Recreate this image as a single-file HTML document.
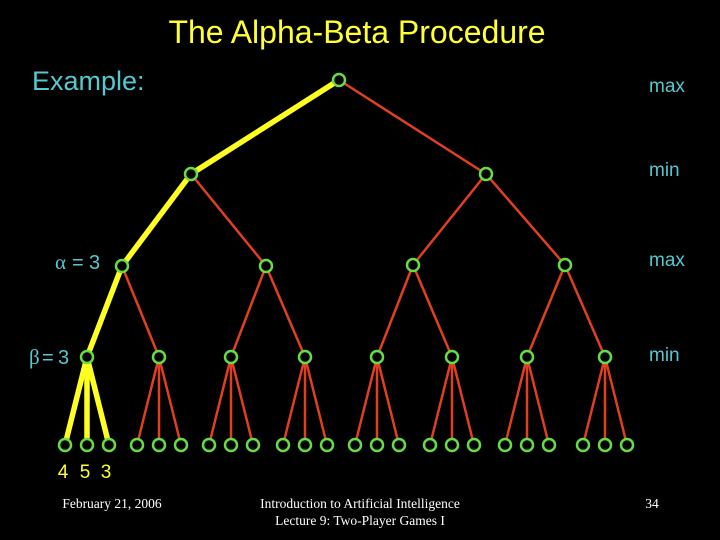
<!DOCTYPE html>
<html><head><meta charset="utf-8"><style>
html,body{margin:0;padding:0;background:#000;}
svg{display:block}
</style></head><body>
<svg width="720" height="540" viewBox="0 0 720 540" xmlns="http://www.w3.org/2000/svg">
<rect width="720" height="540" fill="#000"/>
<text x="357" y="43" font-family="Liberation Sans, sans-serif" font-size="32" fill="#ffff33" text-anchor="middle">The Alpha-Beta Procedure</text>
<g font-family="Liberation Sans, sans-serif" fill="#55c8d0">
<text x="32" y="90" font-size="27">Example:</text>
<text x="649" y="92" font-size="19">max</text>
<text x="649" y="176" font-size="19">min</text>
<text x="649" y="266" font-size="19">max</text>
<text x="649" y="361" font-size="19">min</text>
<text x="55" y="269" font-size="21" font-family="Liberation Serif, serif">α</text><text x="72" y="269" font-size="20">=</text><text x="89" y="269" font-size="20">3</text>
<text x="29" y="364" font-size="21" font-family="Liberation Serif, serif">β</text><text x="42" y="364" font-size="20">=</text><text x="58" y="364" font-size="20">3</text>
</g>
<g font-family="Liberation Sans, sans-serif" fill="#ffff33" font-size="19" text-anchor="middle">
<text x="63" y="478">4</text><text x="85" y="478">5</text><text x="106" y="478">3</text>
</g>
<g font-family="Liberation Serif, serif" fill="#fff" font-size="13.5" text-anchor="middle">
<text x="112" y="508">February 21, 2006</text>
<text x="360" y="508">Introduction to Artificial Intelligence</text>
<text x="360" y="525">Lecture 9: Two-Player Games I</text>
<text x="652" y="508">34</text>
</g>
<g id="edges" stroke="#e04020" stroke-width="2.5" fill="none"></g>
<g id="yel" stroke="#ffff22" stroke-width="5.5" fill="none" stroke-linecap="round"></g>
<g id="nodes" stroke="#66dd44" stroke-width="2.5" fill="#000"></g>
<script>
var ns="http://www.w3.org/2000/svg";
var root=[339,80],L1=[[191,174],[486,174]],L2=[[122,266],[266,266],[413,265],[565,265]];
var c3=[87,159,231,305,377,452,527,605],L3=c3.map(function(x){return [x,357]});
var leaves=[];c3.forEach(function(x){leaves.push([x-22,445],[x,445],[x+22,445])});
var E=document.getElementById('edges'),Y=document.getElementById('yel'),N=document.getElementById('nodes');
function ln(g,a,b){var l=document.createElementNS(ns,'line');l.setAttribute('x1',a[0]);l.setAttribute('y1',a[1]);l.setAttribute('x2',b[0]);l.setAttribute('y2',b[1]);g.appendChild(l);}
ln(Y,root,L1[0]);ln(E,root,L1[1]);
for(var i=0;i<4;i++)ln(i==0?Y:E,L1[i>>1],L2[i]);
for(i=0;i<8;i++)ln(i==0?Y:E,L2[i>>1],L3[i]);
for(i=0;i<24;i++)ln(i<3?Y:E,L3[Math.floor(i/3)],leaves[i]);
[root].concat(L1,L2,L3,leaves).forEach(function(p){var c=document.createElementNS(ns,'circle');c.setAttribute('cx',p[0]);c.setAttribute('cy',p[1]);c.setAttribute('r',6);N.appendChild(c);});
</script>
</svg>
</body></html>
